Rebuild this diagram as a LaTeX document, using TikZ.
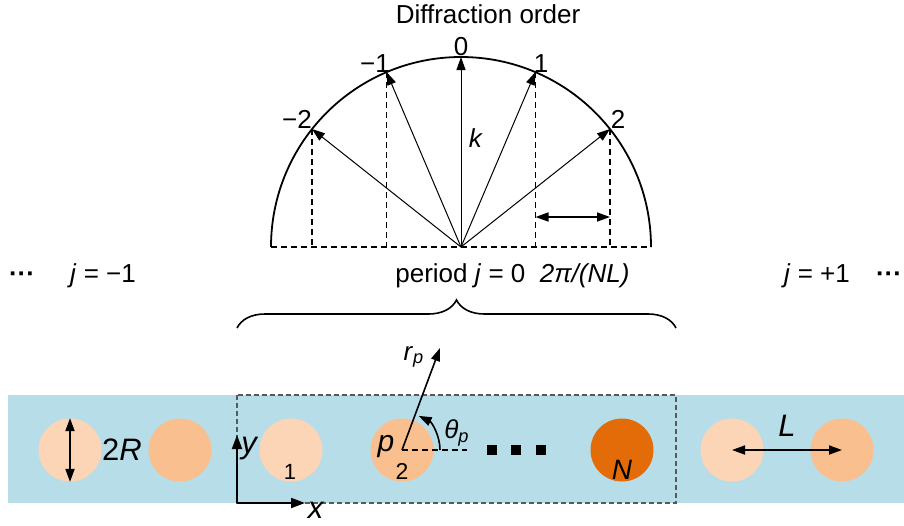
\documentclass[tikz,border=0pt]{standalone}
\usepackage{fontspec}
\setmainfont{Liberation Sans}
\usetikzlibrary{arrows.meta,decorations.pathreplacing}
\definecolor{guideblue}{HTML}{B7DEE8}
\definecolor{rodpale}{HTML}{FBD5B5}
\definecolor{rodmid}{HTML}{F9BF8F}
\definecolor{roddeep}{HTML}{E36C09}

\begin{document}
\begin{tikzpicture}[x=0.5pt,y=-0.5pt,font=\fontsize{13}{15}\selectfont,
  arr/.style={-{Triangle[length=6.5pt,width=4.5pt]}},
  dblarr/.style={{Triangle[length=6.5pt,width=4.5pt]}-{Triangle[length=6.5pt,width=4.5pt]}},
  dashline/.style={dash pattern=on 3pt off 2pt,line width=0.7pt},
  rod/.style={circle,minimum size=31.5pt,inner sep=0pt},
  biglabel/.style={font=\fontsize{15.5}{18}\selectfont}]
\useasboundingbox (0,0) rectangle (904,525);
\fill[guideblue] (8,395) rectangle (904,503);
\draw[black!65, dash pattern=on 2.5pt off 1.5pt, line width=0.6pt] (237,395) rectangle (676,503);
\node[rod, fill=rodpale] (a1) at (70,450) {};
\node[rod, fill=rodmid] (a2) at (180,450) {};
\node[rod, fill=rodpale] (c1) at (291,450) {};
\node[rod, fill=rodmid] (c2) at (402,450) {};
\node[rod, fill=roddeep] (cN) at (622,450) {};
\node[rod, fill=rodpale] (b1) at (732,450) {};
\node[rod, fill=rodmid] (b2) at (842,450) {};
\foreach \i/\x in {1/492,2/516,3/541}
  \node[fill=black, minimum size=5pt, inner sep=0pt] (sq\i) at (\x,450) {};
\draw[dblarr, line width=0.9pt] (a1.north) -- (a1.south);
\node[biglabel] (twoR) at (122,450) {2\textit{R}};
\node[font=\fontsize{11}{13}\selectfont] (n1) at (290,472) {1};
\node[font=\fontsize{11.5}{13}\selectfont] (n2) at (402,471) {2};
\node[font=\fontsize{14}{16}\selectfont\itshape] (nN) at (622,470) {N};
\node[font=\fontsize{15}{17}\selectfont\itshape] (np) at (386,447) {p};
\draw[dblarr, line width=0.9pt] (b1.center) -- (b2.center);
\node[biglabel] (lL) at (787,426) {\textit{L}};
\coordinate (orig) at (237,503);
\coordinate (yend) at (237,435);
\coordinate (xend) at (305,503);
\draw[-{Triangle[length=7pt,width=5pt]}, line width=1pt] (orig) -- (yend);
\draw[-{Triangle[length=7pt,width=5pt]}, line width=1pt] (orig) -- (xend);
\node[biglabel] (ly) at (250,449) {\textit{y}};
\node[biglabel] (lx) at (316,510) {\textit{x}};
\coordinate (rp) at (440,348);
\coordinate (thend) at (467,450);
\coordinate (arcst) at (440,450);
\draw[arr, line width=0.8pt] (c2.center) -- (rp);
\draw[dashline] (c2.center) -- (thend);
\draw[arr, line width=0.8pt] (arcst) arc[start angle=0,end angle=-64,radius=38];
\node (lrp) at (414,357) {\textit{r}\textsubscript{\textit{p}}};
\node (lth) at (457,433) {\textit{θ}\textsubscript{\textit{p}}};
\draw[decorate, decoration={brace,amplitude=14pt}, line width=0.8pt] (237,328) -- (676,328);
\node[anchor=base] (dotsl) at (22,282) {\textbf{···}};
\node[anchor=base] (jm1) at (103,282) {\textit{j} = −1};
\node[anchor=base west, inner sep=0pt] (period) at (395,282) {period \textit{j} = 0\ \ \textit{2π/(NL)}};
\node[anchor=base] (jp1) at (817,282) {\textit{j} = +1};
\node[anchor=base] (dotsr) at (889,282) {\textbf{···}};
\coordinate (O) at (461,247);
\coordinate (m2) at (312,129);
\coordinate (m1) at (386.5,72);
\coordinate (z) at (461,57);
\coordinate (p1) at (535.5,72);
\coordinate (p2) at (610,129);
\coordinate (gapl) at (535.5,217);
\coordinate (gapr) at (610,217);
\draw[line width=0.9pt] (651,247) arc[start angle=0,end angle=-180,radius=190];
\draw[dashline] (271,247) -- (651,247);
\foreach \k in {m2,m1,p1,p2}
  \draw[dashline] (\k) -- (\k |- O);
\foreach \k in {m2,m1,z,p1,p2}
  \draw[arr, line width=0.5pt] (O) -- (\k);
\draw[dblarr, line width=0.8pt] (gapl) -- (gapr);
\node[anchor=base] (title) at (488,23) {Diffraction order};
\node[anchor=base] (lz) at (461,55) {0};
\node[anchor=base] (lm1) at (375,72) {−1};
\node[anchor=base] (lp1) at (541,72) {1};
\node[anchor=base] (lm2) at (297,128) {−2};
\node[anchor=base] (lp2) at (618,128) {2};
\node[anchor=base] (lk) at (476,147) {\textit{k}};
\end{tikzpicture}
\end{document}
